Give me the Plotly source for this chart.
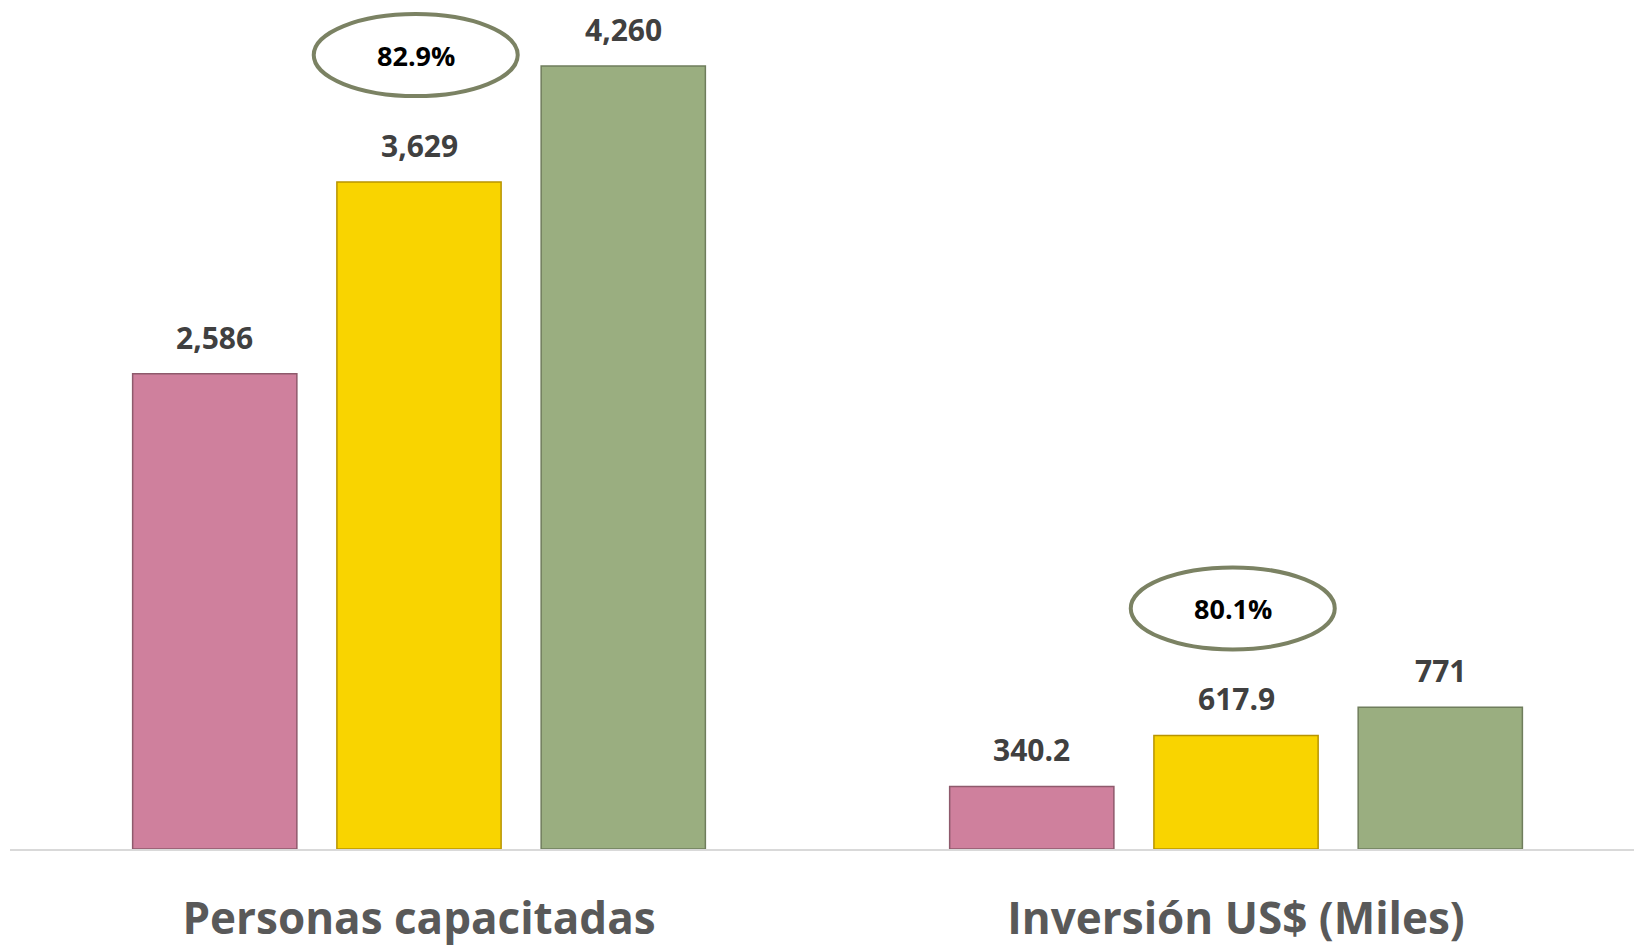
import plotly.graph_objects as go

categories = ["Personas capacitadas", "Inversión US$ (Miles)"]
series_names = ["Serie 1", "Serie 2", "Serie 3"]
serie_1 = [2586, 340.2]
serie_2 = [3629, 617.9]
serie_3 = [4260, 771]
value_labels = [["2,586", "340.2"], ["3,629", "617.9"], ["4,260", "771"]]
percent_labels = ["82.9%", "80.1%"]

series = [serie_1, serie_2, serie_3]
fills = ["#cf809d", "#f9d400", "#9aae80"]
edges = ["#8e5a6c", "#b89400", "#6f7d5c"]

BARGAP = 0.25
BARGROUPGAP = 0.196
FONT = "Open Sans"

fig = go.Figure()
for name, vals, fc, ec in zip(series_names, series, fills, edges):
    fig.add_trace(go.Bar(
        name=name, x=categories, y=vals,
        marker=dict(color=fc, line=dict(color=ec, width=1.5)),
        hoverinfo="x+y",
    ))

slot = (1 - BARGAP) / len(series)
annotations = []
for si, (vals, labels) in enumerate(zip(series, value_labels)):
    off = (si - (len(series) - 1) / 2) * slot
    for ci, (v, lab) in enumerate(zip(vals, labels)):
        annotations.append(dict(
            x=ci + off, y=v, xref="x", yref="y", text=f"<b>{lab}</b>",
            showarrow=False, yanchor="bottom", yshift=14,
            font=dict(family=FONT, size=30, color="#404040"),
        ))

shapes = []
for ci, (v, pct) in enumerate(zip(serie_2, percent_labels)):
    shapes.append(dict(
        type="circle", xref="x", yref="y",
        xsizemode="pixel", ysizemode="pixel",
        xanchor=ci - 0.004, yanchor=v,
        x0=-102, x1=102, y0=86, y1=168,
        line=dict(color="#7b8263", width=4), fillcolor="rgba(0,0,0,0)",
    ))
    annotations.append(dict(
        x=ci - 0.004, y=v, xref="x", yref="y", text=f"<b>{pct}</b>",
        showarrow=False, yanchor="middle", yshift=127,
        font=dict(family=FONT, size=27, color="#000000"),
    ))

fig.update_layout(
    width=1634, height=947,
    margin=dict(l=10, r=0, t=10, b=98),
    paper_bgcolor="white", plot_bgcolor="white",
    barmode="group", bargap=BARGAP, bargroupgap=BARGROUPGAP,
    showlegend=False,
    annotations=annotations, shapes=shapes,
    xaxis=dict(
        range=[-0.5006, 1.4871], showline=True, linecolor="#d9d9d9", linewidth=2,
        showgrid=False, ticks="", ticklabelstandoff=30, automargin=False,
        tickfont=dict(family=FONT, size=44, color="#595959", weight="bold"),
    ),
    yaxis=dict(range=[0, 4565], visible=False, showgrid=False, zeroline=False,
               automargin=False),
)

fig.write_html(
    "out.html",
    config={"displayModeBar": False},
    post_script="document.body.style.margin='0';document.body.style.overflow='hidden';",
)
